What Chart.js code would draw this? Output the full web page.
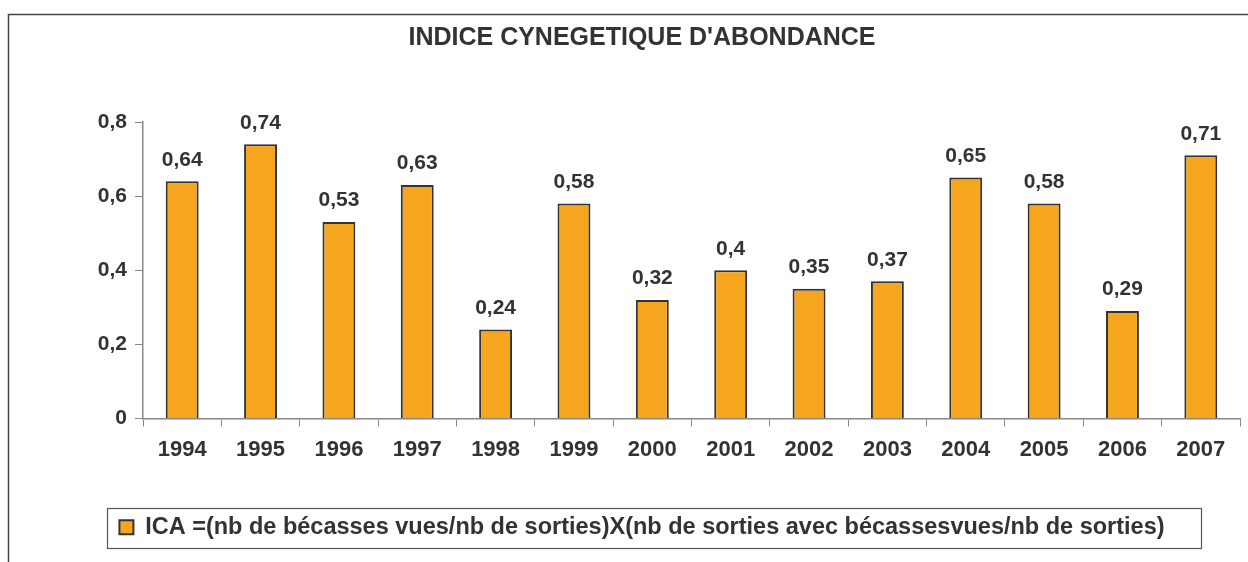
<!DOCTYPE html>
<html>
<head>
<meta charset="utf-8">
<script src="https://cdn.jsdelivr.net/npm/chart.js@4/dist/chart.umd.min.js"></script>
<style>
  html, body { margin: 0; padding: 0; background: #fff; }
  #wrap { width: 1248px; height: 562px; position: relative; }
</style>
</head>
<body>
<div id="wrap"><canvas id="grafico" width="1248" height="562"></canvas></div>
<script>
// Données
const annees = ['1994', '1995', '1996', '1997', '1998', '1999', '2000', '2001', '2002', '2003', '2004', '2005', '2006', '2007'];
const valeursICA = [0.64, 0.74, 0.53, 0.63, 0.24, 0.58, 0.32, 0.4, 0.35, 0.37, 0.65, 0.58, 0.29, 0.71];
const ticksY = [0, 0.2, 0.4, 0.6, 0.8];
const titre = "INDICE CYNEGETIQUE D'ABONDANCE";
const legende = 'ICA =(nb de bécasses vues/nb de sorties)X(nb de sorties avec bécassesvues/nb de sorties)';

const police = '"Liberation Sans", Arial, sans-serif';
const texte = '#333333';
const orange = '#F6A51F';

const virgule = v => String(v).replace('.', ',');

// Cadre extérieur + cadre de la légende
const cadre = {
    id: 'cadre',
    beforeDraw(chart) {
        const c = chart.ctx;
        c.save();
        c.fillStyle = '#fff';
        c.fillRect(0, 0, chart.width, chart.height);
        c.strokeStyle = '#444';
        c.lineWidth = 1.5;
        c.beginPath();
        c.moveTo(8.5, chart.height);
        c.lineTo(8.5, 14.5);
        c.lineTo(chart.width, 14.5);
        c.stroke();
        c.restore();
    },
    afterDraw(chart) {
        const hb = chart.legend.legendHitBoxes[0];
        if (!hb) return;
        const c = chart.ctx;
        c.save();
        c.strokeStyle = '#555';
        c.lineWidth = 1.2;
        c.strokeRect(Math.round(hb.left - 12) + 0.5, Math.round(hb.top - 8) + 0.5,
                     Math.round(hb.width + 49), Math.round(hb.height + 16));
        c.restore();
    }
};

// Étiquettes de valeur au-dessus des barres
const etiquettes = {
    id: 'etiquettes',
    afterDatasetsDraw(chart) {
        const c = chart.ctx;
        const meta = chart.getDatasetMeta(0);
        c.save();
        c.font = 'bold 21px ' + police;
        c.fillStyle = texte;
        c.textAlign = 'center';
        c.textBaseline = 'bottom';
        meta.data.forEach((bar, i) => {
            c.fillText(virgule(valeursICA[i]), bar.x, bar.y - 11);
        });
        c.restore();
    }
};

const ctx = document.getElementById('grafico').getContext('2d');
new Chart(ctx, {
    type: 'bar',
    data: {
        labels: annees,
        datasets: [{
            label: legende,
            data: valeursICA,
            backgroundColor: orange,
            borderColor: '#333',
            borderWidth: 2,
            categoryPercentage: 1,
            barPercentage: 0.42
        }]
    },
    options: {
        responsive: false,
        animation: false,
        layout: { padding: { left: 44, right: 8, top: 20, bottom: 13 } },
        plugins: {
            title: {
                display: true,
                text: titre,
                color: texte,
                font: { family: police, size: 25, weight: 'bold' },
                padding: { top: 3, bottom: 69 }
            },
            legend: {
                position: 'bottom',
                labels: {
                    color: texte,
                    font: { family: police, size: 23.5, weight: 'bold' },
                    boxWidth: 14,
                    boxHeight: 14,
                    padding: 10
                }
            },
            tooltip: { enabled: false }
        },
        scales: {
            x: {
                grid: { drawOnChartArea: false, drawTicks: true, tickLength: 8, color: '#888', offset: true },
                border: { color: '#888', width: 1.5 },
                ticks: { color: texte, font: { family: police, size: 22, weight: 'bold' }, padding: 10 },
                afterFit(scale) { scale.height = 87; }
            },
            y: {
                min: 0,
                max: 0.8,
                afterBuildTicks(scale) { scale.ticks = ticksY.map(v => ({ value: v })); },
                grid: { drawOnChartArea: false, drawTicks: true, tickLength: 8, color: '#888' },
                border: { color: '#888', width: 1.5 },
                ticks: {
                    color: texte,
                    font: { family: police, size: 21, weight: 'bold' },
                    padding: 8,
                    callback: v => virgule(v)
                },
                afterFit(scale) { scale.width = 99; }
            }
        }
    },
    plugins: [cadre, etiquettes]
});
</script>
</body>
</html>
